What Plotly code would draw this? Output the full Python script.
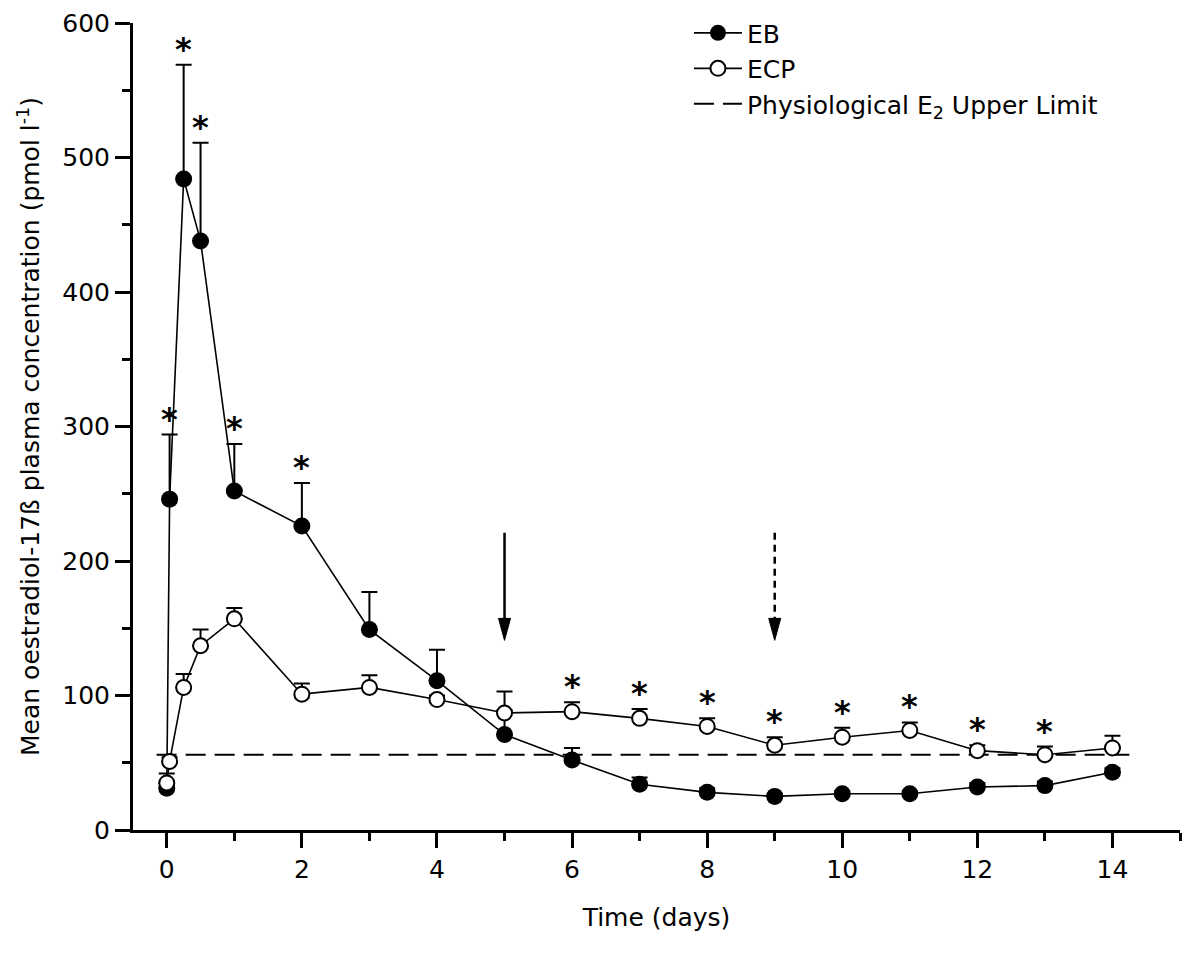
import plotly.graph_objects as go

# ---------------- data ----------------
days = [0, 0.042, 0.25, 0.5, 1, 2, 3, 4, 5, 6, 7, 8, 9, 10, 11, 12, 13, 14]
eb_mean = [31, 246, 484, 438, 252, 226, 149, 111, 71, 52, 34, 28, 25, 27, 27, 32, 33, 43]
eb_sem = [4, 48, 85, 73, 35, 32, 28, 23, 32, 9, 5, 3, 2, 2, 2, 3, 3, 3]
ecp_mean = [35, 51, 106, 137, 157, 101, 106, 97, 87, 88, 83, 77, 63, 69, 74, 59, 56, 61]
ecp_sem = [7, 3, 10, 12, 8, 8, 9, 3, 2, 7, 7, 6, 6, 7, 6, 4, 6, 9]

eb_star_idx = [1, 2, 3, 4, 5]
ecp_star_idx = [9, 10, 11, 12, 13, 14, 15, 16]

limit_value = 56
limit_span = [-0.15, 14.25]

arrow_days = [5, 9]
arrow_dash = ["solid", "dash"]
arrow_top = 221
arrow_tip = 141

x_ticks = [0, 2, 4, 6, 8, 10, 12, 14]
y_ticks = [0, 100, 200, 300, 400, 500, 600]
x_range = [-0.5, 15]
y_range = [0, 600]

# ---------------- layout geometry (page body has an 8px margin) ----------------
W, H = 1184, 947
ML, MR, MT, MB = 125, 12, 15, 125
px_per_day = (W - ML - MR) / (x_range[1] - x_range[0])
px_per_unit = (H - MT - MB) / (y_range[1] - y_range[0])

FONT = "DejaVu Sans, Arial, sans-serif"
FS = 25

fig = go.Figure()

# physiological upper limit (dashed)
fig.add_trace(go.Scatter(
    x=limit_span, y=[limit_value] * len(limit_span), mode="lines",
    line=dict(color="black", width=2, dash="20px,9px"),
    name="Physiological E<sub>2</sub> Upper Limit", legendrank=3,
))

# EB
fig.add_trace(go.Scatter(
    x=days, y=eb_mean, mode="lines+markers",
    line=dict(color="black", width=1.6),
    marker=dict(symbol="circle", size=17, color="black"),
    error_y=dict(type="data", symmetric=False, array=eb_sem,
                 arrayminus=[0] * len(eb_sem), color="black", thickness=2, width=8),
    name="EB", legendrank=1,
))

# ECP
fig.add_trace(go.Scatter(
    x=days, y=ecp_mean, mode="lines+markers",
    line=dict(color="black", width=1.6),
    marker=dict(symbol="circle", size=15, color="white",
                line=dict(color="black", width=2)),
    error_y=dict(type="data", symmetric=False, array=ecp_sem,
                 arrayminus=[0] * len(ecp_sem), color="black", thickness=2, width=8),
    name="ECP", legendrank=2,
))

# significance stars
star_font = dict(family=FONT, size=32, color="black", weight="bold")
for i in eb_star_idx:
    fig.add_annotation(x=days[i], y=eb_mean[i] + eb_sem[i], text="*",
                       showarrow=False, yshift=16, yanchor="middle", font=star_font)
for i in ecp_star_idx:
    fig.add_annotation(x=days[i], y=ecp_mean[i] + ecp_sem[i], text="*",
                       showarrow=False, yshift=16, yanchor="middle", font=star_font)

# arrows
head_len = 22 / px_per_unit
head_half = 6 / px_per_day
for d, style in zip(arrow_days, arrow_dash):
    fig.add_shape(type="line", xref="x", yref="y", x0=d, x1=d,
                  y0=arrow_top, y1=arrow_tip + head_len * 0.6,
                  line=dict(color="black", width=2.5,
                            dash="solid" if style == "solid" else "7px,5px"))
    fig.add_shape(type="path", xref="x", yref="y",
                  path=(f"M{d - head_half},{arrow_tip + head_len} "
                        f"L{d + head_half},{arrow_tip + head_len} "
                        f"L{d},{arrow_tip} Z"),
                  fillcolor="black", line=dict(color="black", width=1))

axis_common = dict(
    showline=True, linecolor="black", linewidth=3, mirror=False,
    ticks="outside", ticklen=15, tickwidth=3, tickcolor="black",
    showgrid=False, zeroline=False,
    tickfont=dict(family=FONT, size=FS, color="black"),
)

fig.update_xaxes(
    range=x_range, tickvals=x_ticks, ticktext=[str(v) for v in x_ticks],
    minor=dict(ticks="outside", dtick=1, tick0=0, ticklen=8, tickwidth=3,
               tickcolor="black", showgrid=False),
    title=dict(text="Time (days)", font=dict(family=FONT, size=FS, color="black"),
               standoff=26),
    **axis_common,
)
fig.update_yaxes(
    range=y_range, tickvals=y_ticks, ticktext=[str(v) for v in y_ticks],
    minor=dict(ticks="outside", dtick=50, tick0=0, ticklen=8, tickwidth=3,
               tickcolor="black", showgrid=False),
    title=dict(text="Mean oestradiol-17ß plasma concentration (pmol l<sup>-1</sup>)",
               font=dict(family=FONT, size=FS, color="black"), standoff=16),
    **axis_common,
)

fig.update_layout(
    width=W, height=H,
    margin=dict(l=ML, r=MR, t=MT, b=MB, pad=0, autoexpand=False),
    paper_bgcolor="white", plot_bgcolor="white",
    font=dict(family=FONT, color="black"),
    showlegend=True,
    legend=dict(x=0.531, y=1.016, xanchor="left", yanchor="top",
                bgcolor="rgba(0,0,0,0)", font=dict(family=FONT, size=FS),
                traceorder="normal", itemwidth=48, tracegroupgap=0),
)

fig.write_html("out.html")
